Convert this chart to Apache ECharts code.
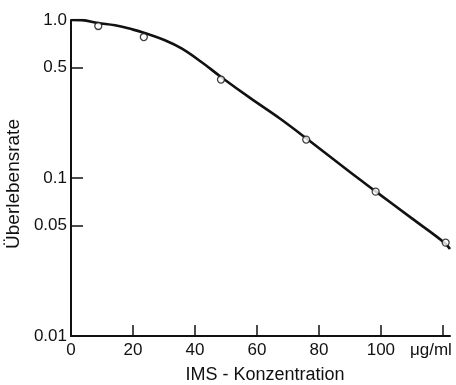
<!DOCTYPE html>
<html>
<head>
<meta charset="utf-8">
<script src="https://cdn.jsdelivr.net/npm/echarts@6/dist/echarts.min.js"></script>
<style>html,body{margin:0;padding:0;background:#fff;}#c{width:456px;height:385px;}</style>
</head>
<body>
<div id="c"></div>
<script>
// Fitted curve
const curveX = [0, 3.5, 8.7, 14.2, 19.7, 23.5, 30.3, 35.8, 42.3, 48.4, 58, 67.4, 75.8, 90, 98.4, 110, 120.6, 122.3];
const curveY = [1.0, 0.998, 0.957, 0.926, 0.873, 0.831, 0.744, 0.658, 0.538, 0.436, 0.319, 0.238, 0.179, 0.109, 0.082, 0.0555, 0.0388, 0.0355];
// Measured points (open circles)
const pointX = [8.8, 23.5, 48.4, 75.9, 98.3, 120.9];
const pointY = [0.916, 0.78, 0.42, 0.175, 0.082, 0.039];
// Tick values / labels
const xTicks = [0, 20, 40, 60, 80, 100, 120];
const xTickLabels = ['0', '20', '40', '60', '80', '100', 'μg/ml'];
const yTicks = [0.01, 0.05, 0.1, 0.5, 1];
const yTickLabels = ['0.01', '0.05', '0.1', '0.5', '1.0'];

const tickFont = "Liberation Sans, Arial, sans-serif";
const titleFont = "Liberation Sans, Arial, sans-serif";

const chart = echarts.init(document.getElementById('c'));
chart.setOption({
  animation: false,
  backgroundColor: '#fff',
  grid: { left: 71, right: 6, top: 20, bottom: 49, containLabel: false, outerBoundsMode: 'none' },
  xAxis: {
    type: 'value', min: 0, max: 122.3,
    name: 'IMS - Konzentration', nameLocation: 'middle', nameGap: 30,
    nameTextStyle: { fontFamily: titleFont, fontSize: 18, color: '#111', padding: [0, 0, 0, 9] },
    axisLine: { lineStyle: { color: '#111', width: 2 } },
    axisTick: { inside: true, length: 11, customValues: xTicks, lineStyle: { color: '#111', width: 1.5 } },
    axisLabel: {
      customValues: xTicks, margin: 6, color: '#111', fontFamily: tickFont, fontSize: 17,
      formatter: function (v) {
        const i = xTicks.findIndex(t => Math.abs(t - v) < 1e-6);
        const s = i >= 0 ? xTickLabels[i] : '';
        return v === 120 ? '{u|' + s + '}' : s;
      },
      rich: { u: { fontFamily: tickFont, fontSize: 17, color: '#111', padding: [0, 24, 0, 0] } }
    },
    splitLine: { show: false }
  },
  yAxis: {
    type: 'log', logBase: 10, min: 0.01, max: 1,
    name: 'Überlebensrate', nameLocation: 'middle', nameGap: 32, nameRotate: 90,
    nameTextStyle: { fontFamily: titleFont, fontSize: 19, color: '#111', padding: [0, 12, 0, 0] },
    axisLine: { show: true, lineStyle: { color: '#111', width: 2 } },
    axisTick: { show: true, inside: true, length: 12, customValues: yTicks, lineStyle: { color: '#111', width: 1.5 } },
    minorTick: { show: false },
    axisLabel: {
      customValues: yTicks, margin: 4, color: '#111', fontFamily: tickFont, fontSize: 17,
      formatter: function (v) {
        const i = yTicks.findIndex(t => Math.abs(Math.log10(t) - Math.log10(v)) < 1e-6);
        return i >= 0 ? yTickLabels[i] : '';
      }
    },
    splitLine: { show: false }
  },
  series: [
    {
      type: 'line', smooth: 0.4, symbol: 'none',
      data: curveX.map((x, i) => [x, curveY[i]]),
      lineStyle: { color: '#111', width: 2.6 },
      z: 2
    },
    {
      type: 'scatter', symbol: 'circle', symbolSize: 7,
      data: pointX.map((x, i) => [x, pointY[i]]),
      itemStyle: { color: '#fff', borderColor: '#111', borderWidth: 1.3 },
      z: 3
    }
  ]
});
</script>
</body>
</html>
